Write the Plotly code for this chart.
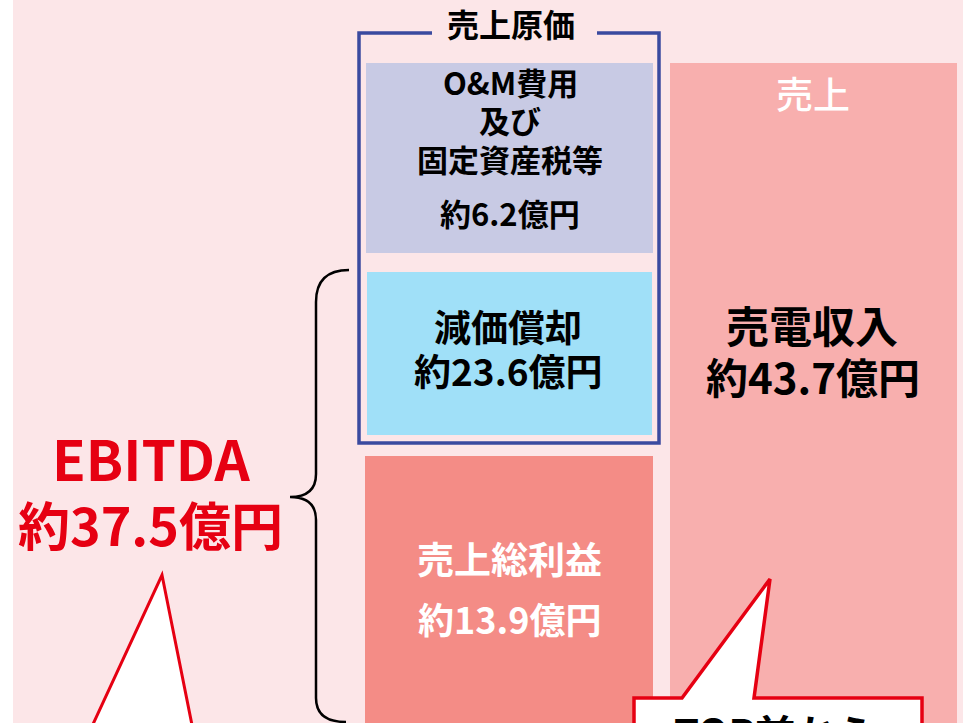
import plotly.graph_objects as go

# ---- data (億円) ----
cost_items = ["O&M費用<br>及び<br>固定資産税等", "減価償却"]
cost_values = [6.2, 23.6]
profit_item = "売上総利益"
profit_value = 13.9
revenue_item = "売電収入"
revenue_value = 43.7
ebitda_item = "EBITDA"
ebitda_value = 37.5
group_labels = ["売上原価", "売上"]
callout_text = "TOP前から"

W, H = 963, 723
FONT = "Noto Sans CJK JP"
RED = "#E60012"

def oku(v):
    return f"約{v}億円"

fig = go.Figure()
fig.add_trace(go.Scatter(x=[0, W], y=[0, H], mode="markers",
                         marker=dict(opacity=0), hoverinfo="skip", showlegend=False))

shapes = []
def rect(x0, y0, x1, y1, fill):
    shapes.append(dict(type="rect", xref="x", yref="y", x0=x0, y0=y0, x1=x1, y1=y1,
                       fillcolor=fill, line=dict(color=fill, width=0), layer="below"))

# background panel
rect(13, -5, W + 5, H + 5, "#FCE6E8")
# bars
rect(670, 63, 957, H + 5, "#F8AFAE")          # 売上
rect(366, 63, 653, 253, "#C8CAE4")            # O&M
rect(367, 272, 652, 435, "#A0E0F8")           # 減価償却
rect(365, 456, 653, H + 5, "#F48C86")         # 売上総利益

# blue bracket box with gap for title
shapes.append(dict(type="path", xref="x", yref="y",
                   path="M 432 33 L 359 33 L 359 443 L 659 443 L 659 33 L 597 33",
                   line=dict(color="#3A4A9F", width=3.5), layer="above"))

# curly brace
shapes.append(dict(type="path", xref="x", yref="y",
                   path="M 349 270 Q 316 270 316 302 L 316 474 Q 316 497 290 497 "
                        "Q 316 497 316 520 L 316 698 Q 316 722 346 722",
                   line=dict(color="black", width=2.5), layer="above"))

# left callout pointer
shapes.append(dict(type="path", xref="x", yref="y",
                   path="M 88 735 L 162 575 L 194 735 Z",
                   fillcolor="white", line=dict(color=RED, width=3), layer="above"))
# right callout
shapes.append(dict(type="path", xref="x", yref="y",
                   path="M 634 740 L 634 698 L 682 698 L 770 579 L 754 698 L 922 698 L 922 740 Z",
                   fillcolor="white", line=dict(color=RED, width=3.5), layer="above"))

ann = []
def text(x, y, s, size, color="black", weight="bold", yanchor="middle", xanchor="center"):
    ann.append(dict(x=x, y=y, xref="x", yref="y", text=s, showarrow=False,
                    xanchor=xanchor, yanchor=yanchor, borderpad=0,
                    font=dict(family=FONT, size=size, color=color, weight=weight)))

text(511, 23, group_labels[0], 32)
for s, yy in zip(cost_items[0].split("<br>"), [81, 119, 158]):
    text(510, yy, s, 31)
text(510, 212, oku(cost_values[0]), 31)
text(508, 326, cost_items[1], 37)
text(508, 370, oku(cost_values[1]), 37)
text(509, 558, profit_item, 37, color="white")
text(509, 618, oku(profit_value), 36, color="white")
text(813, 93, group_labels[1], 37, color="white", weight=500)
text(812, 324, revenue_item, 43)
text(813, 375, oku(revenue_value), 42)
text(151, 457, ebitda_item, 55, color=RED)
text(150, 523, oku(ebitda_value), 52, color=RED)
text(673, 702, callout_text, 40, yanchor="top", xanchor="left")

fig.update_layout(
    width=W, height=H, margin=dict(l=0, r=0, t=0, b=0),
    paper_bgcolor="white", plot_bgcolor="white",
    xaxis=dict(range=[0, W], visible=False, fixedrange=True),
    yaxis=dict(range=[H, 0], visible=False, fixedrange=True),
    shapes=shapes, annotations=ann, showlegend=False,
)
fig.write_html("out.html", config={"displayModeBar": False},
               post_script="document.body.style.margin='0px';document.body.style.overflow='hidden';")
